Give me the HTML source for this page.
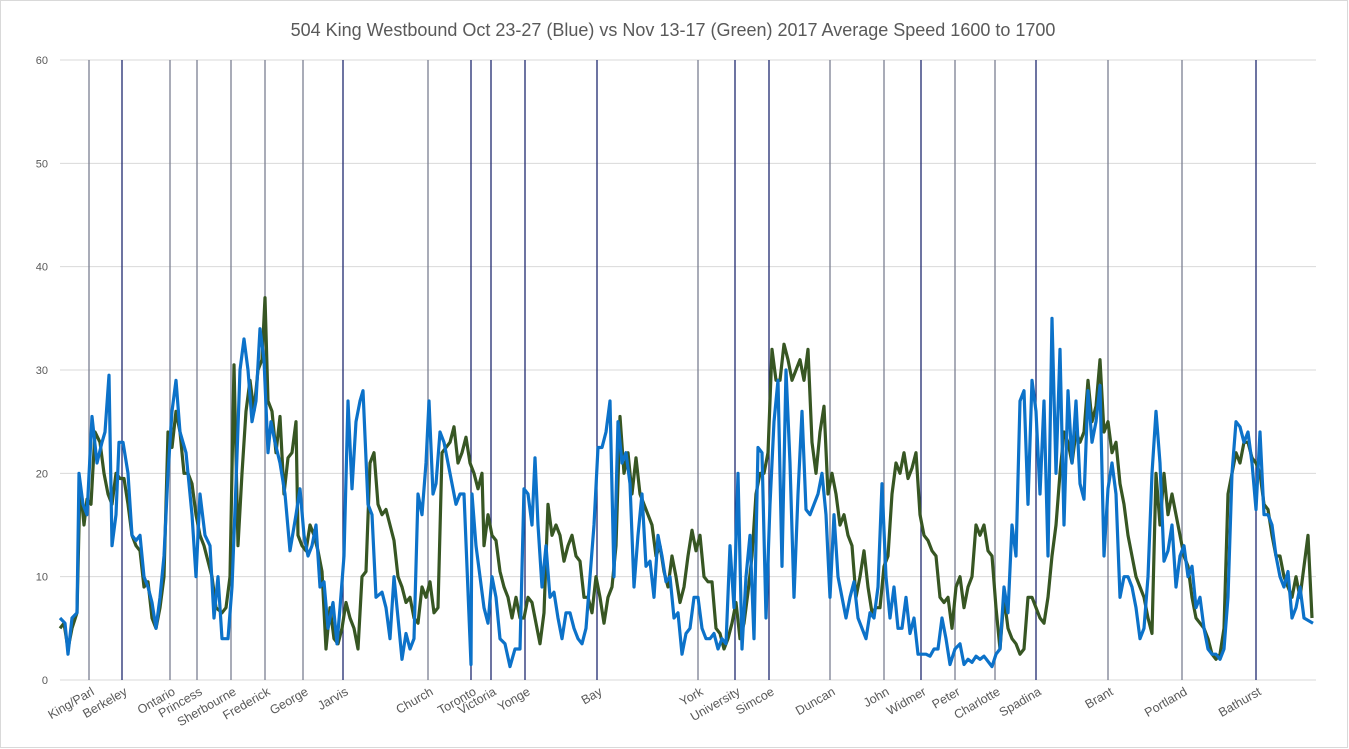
<!DOCTYPE html>
<html><head><meta charset="utf-8"><style>
html,body{margin:0;padding:0;background:#fff}
svg{display:block;font-family:"Liberation Sans",Arial,sans-serif}
</style></head><body>
<svg id="chart" width="1349" height="749" viewBox="0 0 1349 749" xmlns="http://www.w3.org/2000/svg">
<rect x="0.5" y="0.5" width="1347" height="747" fill="#fff" stroke="#d9d9d9"/>
<text x="673" y="36" text-anchor="middle" font-size="18" fill="#595959">504 King Westbound Oct 23-27 (Blue) vs Nov 13-17 (Green) 2017 Average Speed 1600 to 1700</text>
<g id="grid"></g><g id="stops"></g><g id="series"></g><g id="labels"></g>
</svg>
<script>
const yTicks=[0,10,20,30,40,50,60];
const stopNames=["King/Parl","Berkeley","Ontario","Princess","Sherbourne","Frederick","George","Jarvis","Church","Toronto","Victoria","Yonge","Bay","York","University","Simcoe","Duncan","John","Widmer","Peter","Charlotte","Spadina","Brant","Portland","Bathurst"];
const stopDist=[29,62,110,137,171,205,243,283,368,411,431,465,537,638,675,709,770,824,861,895,935,976,1048,1122,1196];
const stopMajor=[0,1,0,0,0,0,0,1,0,1,1,1,1,0,1,1,0,0,1,0,0,1,0,0,1];
const blue=[[0,6],[5,5.5],[8,2.5],[12,6],[17,6.5],[19,20],[23,17],[27,16],[32,25.5],[37,21],[42,23],[45,24],[49,29.5],[52,13],[56,16],[59,23],[63,23],[68,20],[72,14],[76,13.5],[80,14],[84,10],[88,9],[92,7.5],[96,5],[100,8],[104,12],[108,20],[112,26],[116,29],[120,24],[126,22],[132,16],[136,10],[140,18],[145,14],[150,13],[154,6],[158,10],[162,4],[168,4],[172,9],[176,19],[180,30],[184,33],[188,30],[192,25],[196,27],[200,34],[204,31],[208,22],[211,25],[215,23],[220,21],[225,18],[230,12.5],[236,16],[240,18.5],[244,14],[248,12],[252,13],[256,15],[260,9],[264,9.5],[268,5],[273,7.5],[277,3.5],[280,7],[284,12],[288,27],[292,18.5],[296,25],[300,27],[303,28],[308,17],[312,16],[316,8],[322,8.5],[326,7],[330,4],[334,10],[338,6],[342,2],[346,4.5],[350,3],[354,4],[358,18],[362,16],[366,21],[369,27],[373,18],[376,19],[380,24],[384,23],[388,21],[392,19],[396,17],[400,18],[404,18],[411,1.5],[412,18],[416,13],[420,10],[424,7],[428,5.5],[432,10],[436,8],[440,4],[445,3.5],[450,1.3],[455,3],[460,3],[464,18.5],[468,18],[472,15],[475,21.5],[478,15],[482,9],[486,13],[490,8],[494,8.5],[498,6],[502,4],[506,6.5],[510,6.5],[514,5],[518,4],[522,3.5],[526,5],[530,10],[534,15],[538,22.5],[542,22.5],[546,24],[550,27],[554,10],[558,25],[562,21],[566,22],[570,19],[574,9],[578,14],[582,18],[586,11],[590,11.5],[594,8],[598,14],[602,12],[606,9.5],[610,10],[614,6],[618,6.5],[622,2.5],[626,4.5],[630,5],[634,8],[638,8],[642,5],[646,4],[650,4],[654,4.5],[658,3],[662,4],[666,3.5],[670,13],[674,7],[678,20],[682,3],[686,10],[690,14],[694,4],[698,22.5],[702,22],[706,6],[710,17],[714,25],[718,29],[722,11],[726,30],[730,21],[734,8],[738,18],[742,26],[746,16.5],[750,16],[754,17],[758,18],[762,20],[766,16],[770,8],[774,16],[778,10],[782,8],[786,6],[790,8],[794,9.5],[798,6],[802,5],[806,4],[810,6.5],[814,6],[818,9],[822,19],[826,10],[830,6],[834,9],[838,5],[842,5],[846,8],[850,4.5],[854,6],[858,2.5],[862,2.5],[866,2.5],[870,2.3],[874,3],[878,3],[882,6],[886,4],[890,1.5],[895,3],[900,3.5],[904,1.5],[908,2],[912,1.7],[916,2.3],[920,2],[924,2.3],[928,1.8],[932,1.3],[936,2.5],[940,3],[944,9],[948,6.5],[952,15],[956,12],[960,27],[964,28],[968,17],[972,29],[976,26],[980,18],[984,27],[988,12],[992,35],[996,20],[1000,32],[1004,15],[1008,28],[1012,21],[1016,27],[1020,19],[1024,17.5],[1028,28],[1032,23],[1036,25],[1040,28.5],[1044,12],[1048,18.5],[1052,21],[1056,18],[1060,8],[1064,10],[1068,10],[1072,9],[1076,7],[1080,4],[1084,5],[1088,10],[1092,20],[1096,26],[1100,21],[1104,11.5],[1108,12.5],[1112,15],[1116,9],[1120,12],[1124,13],[1128,10],[1132,11],[1136,7],[1140,8],[1144,5],[1148,3],[1152,2.5],[1156,2.5],[1160,2],[1164,3],[1168,8],[1172,20],[1176,25],[1180,24.5],[1184,23],[1188,24],[1192,21],[1196,16.5],[1200,24],[1204,16],[1208,16],[1212,15],[1216,12],[1220,10],[1224,9],[1228,10.5],[1232,6],[1236,7],[1240,9],[1244,6],[1253,5.5]];
const green=[[0,5],[4,5.5],[8,3],[12,5],[17,6.5],[20,19],[24,15],[27,17.5],[31,17],[35,24],[40,23],[44,20],[48,18],[52,17],[56,20],[60,19.5],[64,19.5],[68,17],[72,14],[76,13],[80,12.5],[84,9],[88,9.5],[92,6],[96,5],[100,7],[104,10],[108,24],[112,22.5],[116,26],[120,24],[124,20],[128,20],[132,19],[136,16],[140,14],[144,13],[148,11.5],[152,10],[156,7],[162,6.5],[166,7],[170,10],[174,30.5],[178,13],[182,20],[186,26],[190,29],[194,26],[198,30],[202,31],[205,37],[208,27],[212,26],[216,22],[220,25.5],[224,18],[228,21.5],[232,22],[236,25],[238,14],[242,13],[246,12.5],[250,15],[254,14],[258,12.5],[262,10.5],[266,3],[270,7],[274,4],[278,3.5],[282,5],[286,7.5],[290,6],[294,5],[298,3],[302,10],[306,10.5],[310,21],[314,22],[318,17],[322,16],[326,16.5],[330,15],[334,13.5],[338,10],[342,9],[346,7.5],[350,8],[354,6],[358,5.5],[362,9],[366,8],[370,9.5],[374,6.5],[378,7],[382,22],[386,22.5],[390,23],[394,24.5],[398,21],[402,22],[406,23.5],[410,21],[414,20],[418,18.5],[422,20],[424,13],[428,16],[432,14],[436,13.5],[440,10.5],[444,9],[448,8],[452,6],[456,8],[460,6],[464,6],[468,8],[472,7.5],[476,5.5],[480,3.5],[484,6.5],[488,17],[492,14],[496,15],[500,14],[504,11.5],[508,13],[512,14],[516,12],[520,11.5],[524,8],[528,8],[532,6.5],[536,10],[540,8],[544,5.5],[548,8],[552,9],[556,13],[560,25.5],[564,20],[568,22],[572,18],[576,21.5],[580,18],[584,17],[588,16],[592,15],[596,12],[600,13],[604,10.5],[608,9],[612,12],[616,10],[620,7.5],[624,9],[628,12],[632,14.5],[636,12.5],[640,14],[644,10],[648,9.5],[652,9.5],[656,5],[660,4.5],[664,3],[668,4],[672,5.5],[676,7.5],[680,4],[684,5.5],[688,8.5],[692,12],[696,18],[700,20],[704,20],[708,22],[712,32],[716,29],[720,29],[724,32.5],[728,31],[732,29],[736,30],[740,31],[744,29],[748,32],[752,23],[756,20],[760,24],[764,26.5],[768,18],[772,20],[776,18],[780,15],[784,16],[788,14],[792,13],[796,8],[800,10],[804,12.5],[808,9],[812,6.5],[816,7],[820,7],[824,11],[828,12],[832,18],[836,21],[840,20],[844,22],[848,19.5],[852,20.5],[856,22],[860,16],[864,14],[868,13.5],[872,12.5],[876,12],[880,8],[884,7.5],[888,8],[892,5],[896,9],[900,10],[904,7],[908,9],[912,10],[916,15],[920,14],[924,15],[928,12.5],[932,12],[936,7],[940,3],[944,8],[948,5],[952,4],[956,3.5],[960,2.5],[964,3],[968,8],[972,8],[976,7],[980,6],[984,5.5],[988,8],[992,12],[996,15],[1000,20],[1004,24],[1008,23],[1012,21],[1016,24],[1020,23],[1024,24],[1028,29],[1032,25],[1036,26.5],[1040,31],[1044,24],[1048,25],[1052,22],[1056,23],[1060,19],[1064,17],[1068,14],[1072,12],[1076,10],[1080,9],[1084,8],[1088,6],[1092,4.5],[1096,20],[1100,15],[1104,20],[1108,16],[1112,18],[1116,16],[1120,14],[1124,12],[1128,11],[1132,8],[1136,6],[1140,5.5],[1144,5],[1148,4],[1152,2.5],[1156,2],[1160,2.5],[1164,5],[1168,18],[1172,20],[1176,22],[1180,21],[1184,23],[1188,23],[1192,21.5],[1196,21],[1200,20],[1204,17],[1208,16.5],[1212,14],[1216,12],[1220,12],[1224,10],[1228,9],[1232,8],[1236,10],[1240,8],[1244,11],[1248,14],[1252,6]];

const NS="http://www.w3.org/2000/svg";
const X0=60,X1=1316,Y0=680,Y1=60,DMAX=1256,VMAX=60;
const xs=d=>X0+d/DMAX*(X1-X0);
const ys=v=>Y0-v/VMAX*(Y0-Y1);
function mk(tag,attrs,parent){const e=document.createElementNS(NS,tag);for(const k in attrs)e.setAttribute(k,attrs[k]);parent.appendChild(e);return e;}
const grid=document.getElementById('grid'),stops=document.getElementById('stops'),ser=document.getElementById('series'),lab=document.getElementById('labels');
yTicks.forEach(t=>{
  const l=mk('line',{x1:X0,x2:X1,y1:ys(t),y2:ys(t),stroke:'#d9d9d9','stroke-width':1},grid);
  
  
  const tx=mk('text',{x:48,y:ys(t)+4,'text-anchor':'end','font-size':11,fill:'#595959'},lab);
  tx.textContent=t;
  
  
});
stopNames.forEach((n,i)=>{
  const x=xs(stopDist[i]);
  const l=mk('line',{x1:x,x2:x,y1:Y1,y2:Y0,stroke:stopMajor[i]?'#1f2a70':'#7b7f92','stroke-width':1.3},stops);
  
  
  const tx=mk('text',{x:x+6,y:694,'text-anchor':'end','font-size':12.5,fill:'#595959',transform:`rotate(-30 ${x+6} 694)`},lab);
  tx.textContent=n;
  
  
});
function path(data,color,name){
  const p=mk('path',{d:data.map((pt,i)=>(i?'L':'M')+xs(pt[0]).toFixed(1)+' '+ys(pt[1]).toFixed(1)).join(''),fill:'none',stroke:color,'stroke-width':3.2,'stroke-linejoin':'round'},ser);
  
  
}
path(green,'#375623','series-nov-green');
path(blue,'#0c72c9','series-oct-blue');
</script>
</body></html>
